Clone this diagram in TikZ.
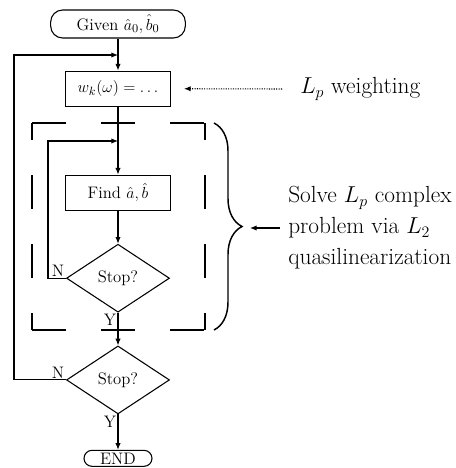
\documentclass[tikz,border=0pt]{standalone}
\usepackage{amsmath}
\usetikzlibrary{positioning,shapes.geometric,arrows.meta,decorations.pathreplacing}

\tikzset{
	flow/.style = {line width=0.8pt, -{Latex[length=5pt,width=4pt]}},
	terminal/.style = {draw, line width=0.8pt, rounded corners=9pt, minimum width=101pt,
		minimum height=21pt, inner sep=1pt, font=\fontsize{12.5}{14}\selectfont},
	procbox/.style = {draw, line width=0.8pt, minimum width=78.75pt, minimum height=26.5pt,
		inner sep=1pt, font=\fontsize{12.5}{14}\selectfont},
	decision/.style = {draw, diamond, line width=0.8pt, minimum width=77.25pt,
		minimum height=51pt, inner sep=0pt, font=\fontsize{12.5}{14}\selectfont},
	tag/.style = {inner sep=1pt, font=\fontsize{12.5}{14}\selectfont},
	dashside/.style = {line width=0.8pt, dash pattern=on 25.5pt off 26.25pt},
	note/.style = {align=left, font=\fontsize{17.5}{23.25}\selectfont},
}

\begin{document}
\begin{tikzpicture}[x=0.75pt, y=-0.75pt]
	\useasboundingbox (0,0) rectangle (456,468);

	\node[terminal] (given) at (118,24) {Given $\hat{a}_0, \hat{b}_0$};
	\node[procbox, below=24pt of given] (wk) {$w_k(\omega) = \ldots$};
	\node[procbox, below=50.75pt of wk] (find) {Find $\hat{a}, \hat{b}$};
	\node[decision, below=24.5pt of find] (stop1) {Stop?};
	\node[decision, below=24.5pt of stop1] (stop2) {Stop?};
	\node[terminal, rounded corners=6pt, minimum width=51pt, minimum height=12pt,
		below=26.5pt of stop2] (finish) {END};

	% where the loops come back in
	\coordinate (outloop) at (118,55);
	\coordinate (inloop) at (118,141);

	% dashed box round the inner loop
	\coordinate (dtl) at (32,123);
	\coordinate (dtr) at (205,123);
	\coordinate (dbl) at (32,330);
	\coordinate (dbr) at (205,330);
	\draw[dashside] (dtl) -- (dtr);
	\draw[dashside] (dbl) -- (dbr);
	\draw[dashside, dash phase=12.75pt] (dtl) -- (dbl);
	\draw[dashside, dash phase=12.75pt] (dtr) -- (dbr);

	\draw[flow] (given) -- (wk);
	\draw[flow] (wk) -- (find);
	\draw[flow] (find) -- (stop1);
	\draw[flow] (stop1) -- node[tag, pos=0, below left] {Y} (stop2);
	\draw[flow] (stop2) -- node[tag, pos=0, below left] {Y} (finish);
	\draw[flow] (stop1.west) node[tag, above left] {N} -- ++(-13.5pt,0) |- (inloop);
	\draw[flow] (stop2.west) node[tag, above left] {N} -- ++(-39pt,0) |- (outloop);

	% side notes
	\node[note, anchor=west, inner xsep=13.5pt] (lpw) at (282,89) {$L_p$ weighting};
	\draw[flow, densely dotted] (lpw.west) -- ([xshift=9.75pt]wk.east);

	\coordinate (brtop) at (214,123);
	\coordinate (brbot) at (214,330);
	\coordinate (bracetip) at (250,228);
	\draw[line width=1.1pt, decorate, decoration={brace, amplitude=21pt}] (brtop) -- (brbot);
	\node[note, anchor=west, inner sep=6pt] (solve) at (280,228)
		{Solve $L_p$ complex\\problem via $L_2$\\quasilinearization};
	\draw[flow] (solve.west) -- (bracetip);
\end{tikzpicture}
\end{document}
